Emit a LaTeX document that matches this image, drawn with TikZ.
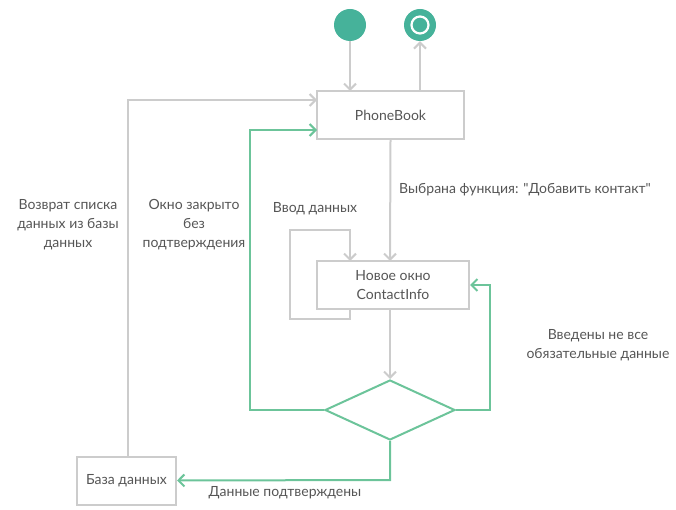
\documentclass[tikz,border=0pt]{standalone}
\usepackage{fontspec}
\setmainfont{Lato}
\usetikzlibrary{arrows.meta,shapes.geometric}
\definecolor{gline}{HTML}{CCCCCC}
\definecolor{grn}{HTML}{6CC49A}
\definecolor{dot}{HTML}{46B29A}
\definecolor{txt}{HTML}{555555}
\tikzset{
  box/.style={draw=gline,line width=2pt,fill=white,minimum width=#1,minimum height=48pt,inner sep=0pt,align=center,text=txt,font=\fontsize{14}{19}\selectfont},
  lbl/.style={text=txt,align=center,font=\fontsize{14}{19}\selectfont,inner sep=0pt},
  gar/.style={draw=gline,line width=2pt,-{Straight Barb[length=6pt,width=12pt,line width=2pt]}},
  grar/.style={draw=grn,line width=2pt,-{Straight Barb[length=6pt,width=12pt,line width=2pt]}},
}
\begin{document}
\begin{tikzpicture}[x=1pt,y=-1pt]
\useasboundingbox (0,0) rectangle (676,510);
\node[circle,fill=dot,minimum size=32pt,inner sep=0pt] (start) at (350,25) {};
\node[circle,fill=dot,minimum size=32pt,inner sep=0pt] (end) at (420,25) {};
\node[circle,draw=white,line width=2.2pt,minimum size=17pt,inner sep=0pt] (endin) at (420,25) {};
\node[box=147pt] (pb) at (390.5,115) {PhoneBook};
\node[box=152pt] (ci) at (393,285) {Новое окно\\ContactInfo};
\node[diamond,draw=grn,line width=2pt,fill=white,minimum width=130pt,minimum height=60pt,inner sep=0pt] (dec) at (390,410) {};
\node[box=99pt] (db) at (126.5,480.5) {База данных};
% gray arrows
\draw[gar] (start.south) -- (350,91);
\draw[gar] (420,91) -- (end.south);
\draw[gar] (pb.south) -- (390,261);
\draw[gar] (390,309) -- (dec.north);
\draw[gar] (350,309) -- (350,319) -- (290,319) -- (290,230) -- (350,230) -- (350,261);
\draw[gar] (128,456) -- (128,100) -- (317,100);
% green arrows
\draw[grar] (dec.west) -- (250,410) -- (250,130) -- (317,130);
\draw[grar] (dec.east) -- (490,410) -- (490,285) -- (ci.east);
\draw[grar] (dec.south) -- (390,480) -- (db.east);
% labels
\node[lbl] (l1) at (525,190) {Выбрана функция: \textquotedbl Добавить контакт\textquotedbl};
\node[lbl] (l2) at (315,209) {Ввод данных};
\node[lbl] (l3) at (194,225) {Окно закрыто\\без\\подтверждения};
\node[lbl] (l4) at (68,225) {Возврат списка\\данных из базы\\данных};
\node[lbl] (l5) at (598,345) {Введены не все\\обязательные данные};
\node[lbl] (l6) at (285,493) {Данные подтверждены};
\end{tikzpicture}
\end{document}
